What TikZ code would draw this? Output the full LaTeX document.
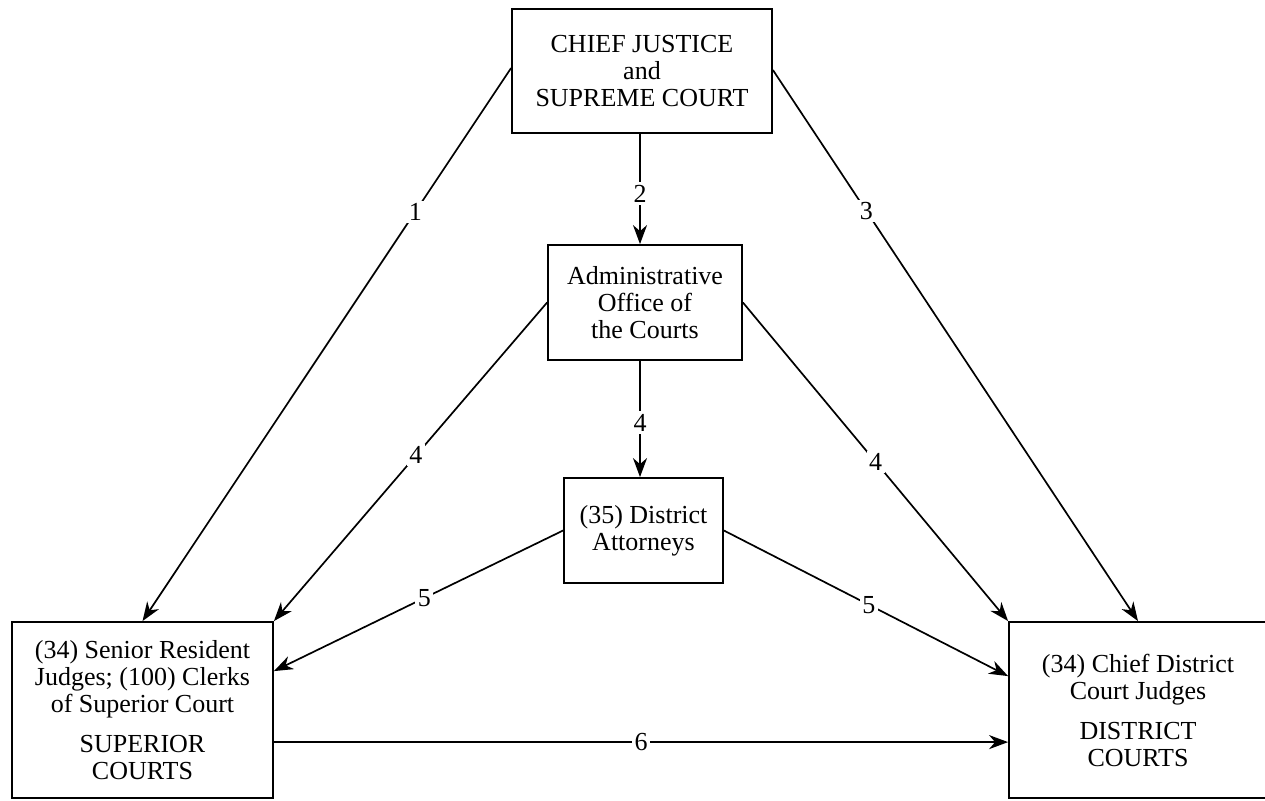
\documentclass[tikz,border=0pt]{standalone}
\usepackage{fontspec}
\setmainfont{Liberation Serif}
\usetikzlibrary{arrows.meta,calc}
\begin{document}
\begin{tikzpicture}[x=1pt,y=-1pt,
  box/.style={draw,line width=1.8pt,align=center,inner sep=0pt,font=\fontsize{26}{27}\selectfont},
  arr/.style={line width=1.7pt,-{Stealth[length=19pt,width=14pt,inset=6pt]}},
  lab/.style={fill=white,inner sep=2.5pt,font=\fontsize{26}{27}\selectfont}]
\useasboundingbox (0,0) rectangle (1265,800);
\fill[white] (0,0) rectangle (1265,800);
\node[box,minimum width=260pt,minimum height=124pt] (top) at (642,71) {CHIEF JUSTICE\\and\\SUPREME COURT};
\node[box,minimum width=194pt,minimum height=115pt] (admin) at (645,302.5) {Administrative\\Office of\\the Courts};
\node[box,minimum width=159pt,minimum height=105pt] (da) at (643.5,530.5) {(35) District\\Attorneys};
\node[box,minimum width=261pt,minimum height=176pt] (sup) at (142.5,710) {(34) Senior Resident\\Judges; (100) Clerks\\of Superior Court\\[13pt]SUPERIOR\\COURTS};
\node[box,minimum width=258pt,minimum height=176pt] (dist) at (1138,710) {(34) Chief District\\Court Judges\\[13pt]DISTRICT\\COURTS};
\draw[arr] ($(top.west)+(0,-3)$) -- node[lab,pos=0.26]{1} (sup.north);
\draw[arr] ($(top.east)+(0,-1)$) -- node[lab,pos=0.256]{3} (dist.north);
\draw[arr] ($(top.south)+(-2,0)$) -- node[lab,pos=0.54]{2} ($(top.south |- admin.north)+(-2,0)$);
\draw[arr] (admin.west) -- node[lab,pos=0.48]{4} (sup.north east);
\draw[arr] (admin.east) -- node[lab,pos=0.5]{4} (dist.north west);
\draw[arr] ($(admin.south)+(-5,0)$) -- node[lab,pos=0.53]{4} ($(admin.south |- da.north)+(-5,0)$);
\draw[arr] (da.west) -- node[lab,pos=0.48]{5} ($(sup.north east)+(0,50)$);
\draw[arr] (da.east) -- node[lab,pos=0.51]{5} ($(dist.north west)+(0,55)$);
\draw[arr] ($(sup.north east)+(0,121)$) -- node[lab,pos=0.5]{6} ($(dist.north west)+(0,121)$);
\end{tikzpicture}
\end{document}
